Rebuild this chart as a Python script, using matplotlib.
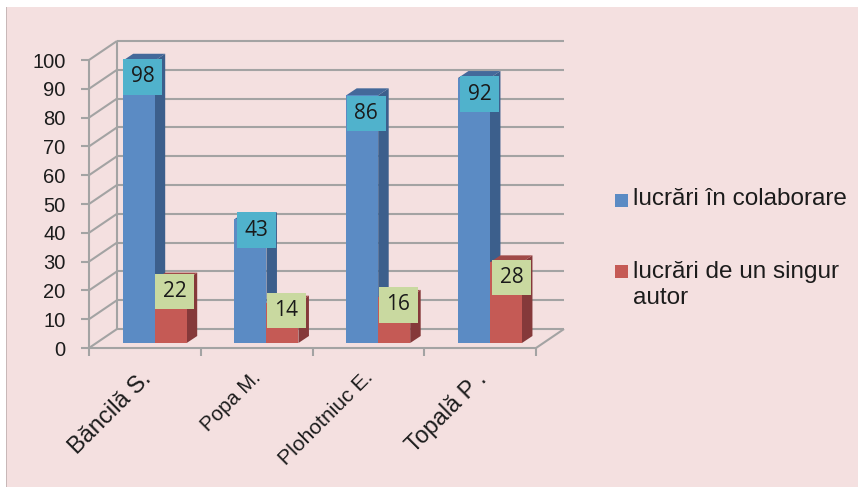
import matplotlib
matplotlib.use('Agg')
from matplotlib import pyplot as plt
from matplotlib.patches import Polygon, Rectangle
import numpy as np

W, H = 858, 487

authors = ['Băncilă S.', 'Popa M.', 'Plohotniuc E.', 'Topală P .']
colaborare = [98, 43, 86, 92]
singur_autor = [22, 14, 16, 28]
y_ticks = [0, 10, 20, 30, 40, 50, 60, 70, 80, 90, 100]

# hand nudges for the value boxes, in pixels (right, down from bar top)
nudge_blue = [(4, 16), (6, 11), (4, 18), (6, 16)]
nudge_red = [(4, 12), (4, 8), (4, 8), (6, 15)]

BG = '#f4e0e0'
GRID = '#a3a3a3'

fig = plt.figure(figsize=(W / 100, H / 100), dpi=100, facecolor='white')
fig.add_artist(Rectangle((6 / W, 0), (W - 6) / W, (H - 7) / H, transform=fig.transFigure,
                         facecolor=BG, edgecolor='none', zorder=-2))
fig.add_artist(Rectangle((6 / W, 0), 1 / W, (H - 7) / H, transform=fig.transFigure,
                         facecolor='#c8b8b8', edgecolor='none', zorder=-1))

# axes box = front edge of the floor, 0 at y=348, 100 at y=60
ax = fig.add_axes([89 / W, 1 - 348 / H, (536 - 89) / W, (348 - 60) / H])
ax.set_xlim(0, 4)
ax.set_ylim(0, 100)
ax.patch.set_visible(False)
for s in ax.spines.values():
    s.set_visible(False)

px_x = 4 / (536 - 89)
px_y = 100 / (348 - 60)
wall_dx, wall_dy = 28 * px_x, 19 * px_y


def line(xs, ys):
    ax.plot(xs, ys, color=GRID, lw=1.5, clip_on=False, solid_capstyle='butt', zorder=1)


# walls and floor
for v in y_ticks:
    line([0, wall_dx], [v, v + wall_dy])
    line([wall_dx, 4 + wall_dx], [v + wall_dy, v + wall_dy])
line([wall_dx, wall_dx], [wall_dy, 100 + wall_dy])
line([4, 4 + wall_dx], [0, wall_dy])
line([0, 4], [0, 0])
line([0, 0], [0, 100])

ax.set_yticks(y_ticks)
ax.set_xticks(np.arange(5))
ax.set_xticklabels([])
ax.tick_params(axis='both', color=GRID, width=1.5, length=6)
ax.tick_params(axis='y', labelsize=14.5, labelcolor='#1c1c1c', pad=11)
ax.set_xticks(np.arange(4) + 0.5 - 5 * px_x, minor=True)
ax.set_xticklabels(authors, minor=True)
ax.tick_params(axis='x', which='minor', length=0, pad=14)
sizes = [17, 14.7, 15.2, 16.8]
for lab, fs in zip(ax.get_xticklabels(minor=True), sizes):
    lab.set_rotation(45)
    lab.set_ha('right')
    lab.set_va('top')
    lab.set_rotation_mode('anchor')
    lab.set_fontsize(fs)
    lab.set_color('#1c1c1c')

for t in ax.get_yticklabels():
    t.set_fontfamily('Liberation Sans')
for t in ax.get_xticklabels(minor=True):
    t.set_fontfamily('Liberation Sans')

# bars
bar_w = 32 * px_x
base_x, base_y = 33.7 * px_x, 5 * px_y
dep_x, dep_y = 10.5 * px_x, 7 * px_y


def bar3d(x, v, front, side, top, z):
    y0 = base_y
    y1 = base_y + v
    ax.add_patch(Polygon([(x + bar_w, y0), (x + bar_w + dep_x, y0 + dep_y),
                          (x + bar_w + dep_x, y1 + dep_y), (x + bar_w, y1)],
                         facecolor=side, edgecolor='none', clip_on=False, zorder=z))
    ax.add_patch(Polygon([(x, y1), (x + bar_w, y1), (x + bar_w + dep_x, y1 + dep_y),
                          (x + dep_x, y1 + dep_y)],
                         facecolor=top, edgecolor='none', clip_on=False, zorder=z))
    ax.add_patch(Rectangle((x, y0), bar_w, v, facecolor=front, edgecolor='none',
                           clip_on=False, zorder=z + 0.1))


def value_box(xc, v, nudge, color, z):
    bw, bh = 39 * px_x, 35.5 * px_y
    cx = xc + nudge[0] * px_x
    cy = base_y + v - nudge[1] * px_y
    ax.add_patch(Rectangle((cx - bw / 2, cy - bh / 2), bw, bh, facecolor=color,
                           edgecolor='none', clip_on=False, zorder=z))
    ax.text(cx, cy, str(v), ha='center', va='center', fontsize=15, color='#1a1a1a',
            family='Open Sans', zorder=z + 0.1)


for i in range(4):
    x_blue = i + base_x
    x_red = x_blue + bar_w
    bar3d(x_blue, colaborare[i], '#5b8bc4', '#3c5f8c', '#44699a', 3)
    bar3d(x_red, singur_autor[i], '#c55a55', '#85393a', '#a04a48', 4)
    value_box(x_blue + bar_w / 2, colaborare[i], nudge_blue[i], '#50b2cc', 6)
    value_box(x_red + bar_w / 2, singur_autor[i], nudge_red[i], '#c9d9a0', 7)

# legend
fig.add_artist(Rectangle((615 / W, 1 - 207 / H), 12.5 / W, 13.5 / H, transform=fig.transFigure,
                         facecolor='#5b8bc4', edgecolor='none'))
fig.add_artist(Rectangle((615 / W, 1 - 278 / H), 12.5 / W, 13.5 / H, transform=fig.transFigure,
                         facecolor='#c55a55', edgecolor='none'))
fig.text(633 / W, 1 - 199 / H, 'lucrări în colaborare', fontsize=17.5, family='Liberation Sans',
         va='center', color='#1c1c1c')
fig.text(633 / W, 1 - 285 / H, 'lucrări de un singur\nautor', fontsize=17.5,
         family='Liberation Sans', va='center', color='#1c1c1c', linespacing=1.27)

fig.savefig('out.png', dpi=100, facecolor='white')
